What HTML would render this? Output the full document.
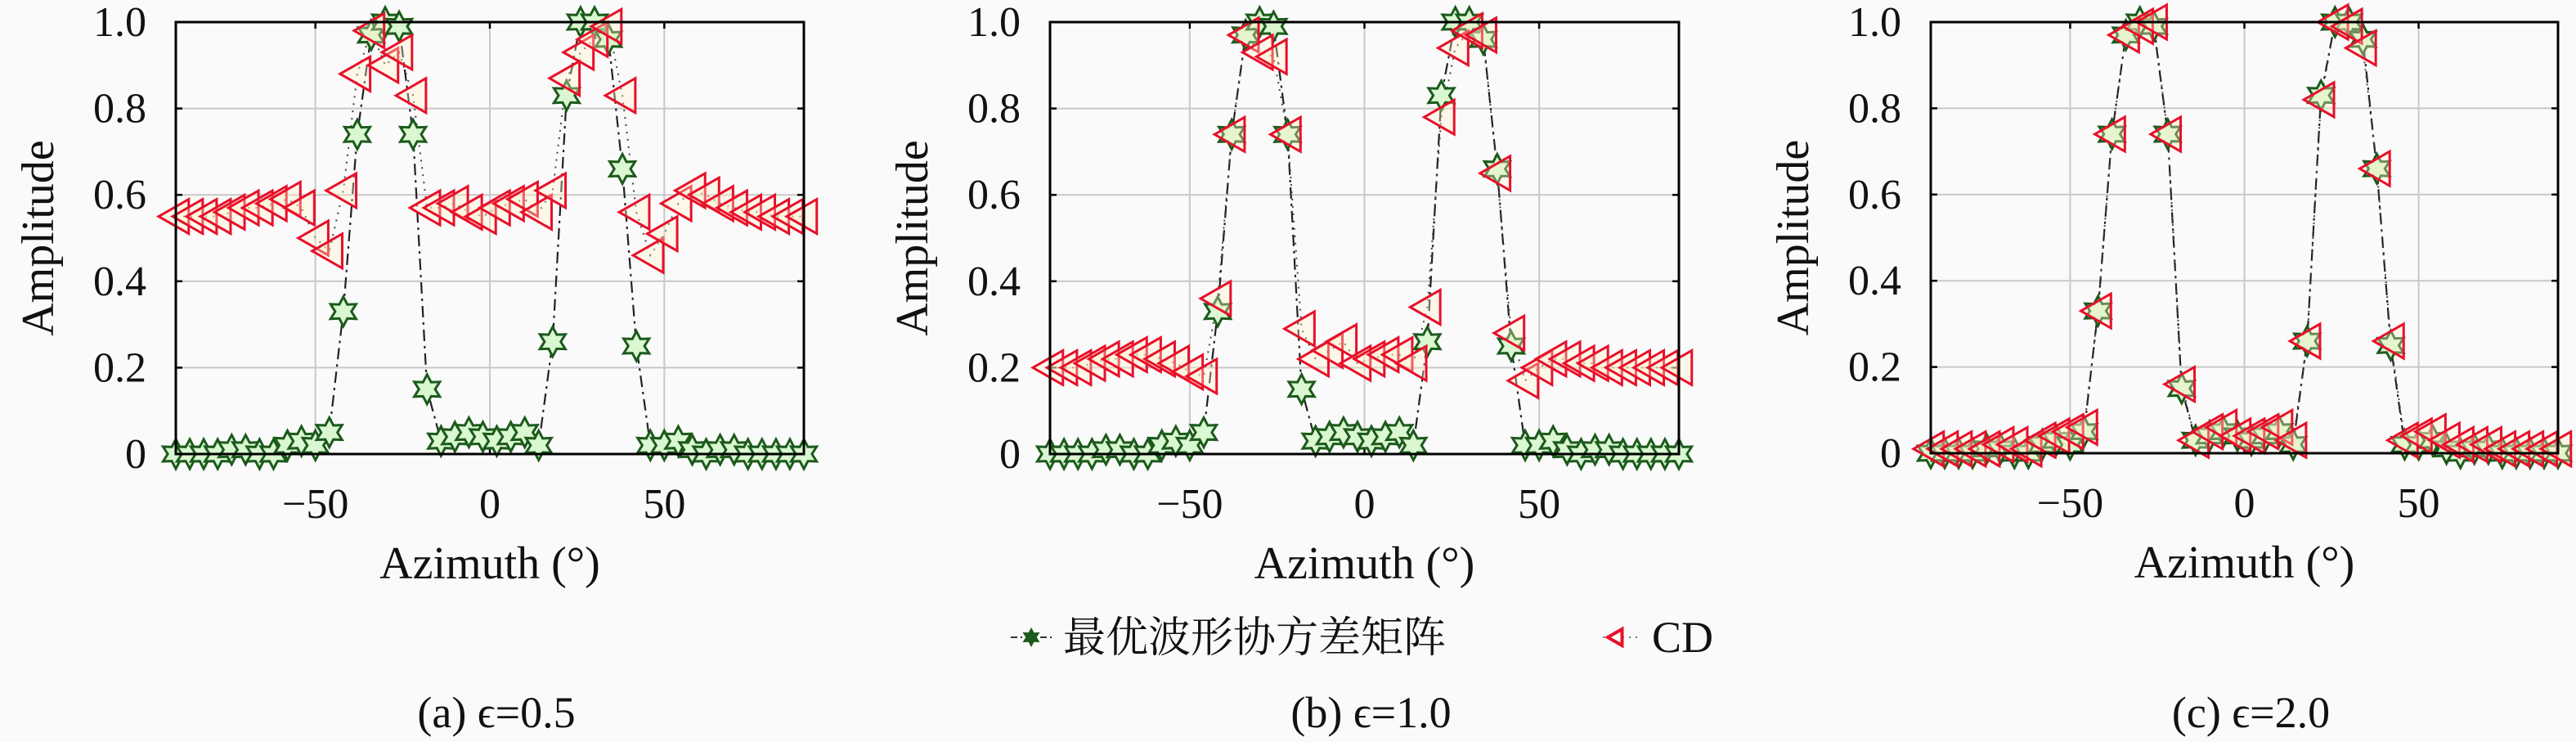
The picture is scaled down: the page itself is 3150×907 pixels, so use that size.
<!DOCTYPE html>
<html><head><meta charset="utf-8">
<style>
html,body{margin:0;padding:0;background:#fafafa;}
</style></head>
<body>
<svg id="chart" xmlns="http://www.w3.org/2000/svg" width="3150" height="902" viewBox="0 0 3150 902" font-family="'Liberation Serif', 'DejaVu Serif', serif">
<rect x="0" y="0" width="3150" height="902" fill="#fafafa"/>
</svg>
<script>
// ---- data ----
const angles = [-90,-86,-82,-78,-74,-70,-66,-62,-58,-54,-50,-46,-42,-38,-34,-30,-26,-22,-18,-14,-10,-6,-2,2,6,10,14,18,22,26,30,34,38,42,46,50,54,58,62,66,70,74,78,82,86,90];
const starA = [0,0,0,0,.01,.01,0,0,.02,.03,.02,.05,.33,.74,.97,1.0,.99,.74,.15,.03,.04,.05,.04,.03,.04,.05,.02,.26,.83,1.0,1.0,.96,.66,.25,.02,.02,.03,.01,0,.01,.01,0,0,0,0,0];
const starB = [0,0,0,0,.01,.01,0,0,.02,.03,.02,.05,.33,.74,.97,1.0,.99,.74,.15,.03,.04,.05,.04,.03,.04,.05,.02,.26,.83,1.0,1.0,.96,.66,.25,.02,.02,.03,.01,0,.01,.01,0,0,0,0,0];
const starC = [0,0,0,0,.01,.01,0,0,.02,.03,.02,.05,.33,.74,.97,1.0,.99,.74,.15,.03,.04,.05,.04,.03,.04,.05,.02,.26,.83,1.0,1.0,.96,.66,.25,.02,.02,.03,.01,0,.01,.01,0,0,0,0,0];
const cdA = [.55,.55,.55,.55,.56,.57,.57,.58,.59,.57,.50,.47,.61,.88,.98,.90,.93,.83,.57,.57,.58,.56,.55,.57,.58,.59,.56,.61,.87,.93,.96,.99,.83,.56,.46,.51,.58,.61,.60,.58,.57,.56,.56,.55,.55,.55];
const cdB = [.20,.20,.20,.21,.22,.22,.23,.23,.22,.21,.19,.18,.36,.74,.97,.93,.92,.74,.29,.22,.24,.26,.21,.22,.23,.23,.21,.34,.78,.94,.98,.97,.65,.28,.17,.20,.22,.22,.21,.21,.20,.20,.20,.20,.20,.20];
const cdC = [.01,.01,.01,.01,.01,.02,.02,.01,.03,.04,.05,.06,.33,.74,.97,.99,1.0,.74,.16,.03,.05,.06,.04,.04,.05,.06,.03,.26,.82,1.0,.99,.94,.66,.26,.03,.04,.05,.03,.02,.02,.02,.01,.01,.01,.01,.01];
const xTicks = [-50,0,50];
const xTickLabels = ["\u221250","0","50"];
const yTicks = [0,0.2,0.4,0.6,0.8,1.0];
const yTickLabels = ["0","0.2","0.4","0.6","0.8","1.0"];
const captions = ["(a) \u03f5=0.5","(b) \u03f5=1.0","(c) \u03f5=2.0"];
const legendLabels = ["最优波形协方差矩阵","CD"];

// ---- layout ----
const svg = document.getElementById('chart');
const NS = 'http://www.w3.org/2000/svg';
const SERIF = "'Liberation Serif', 'DejaVu Serif', serif";
function mk(tag, attrs, parent){const e=document.createElementNS(NS,tag);for(const k in attrs)e.setAttribute(k,attrs[k]);(parent||svg).appendChild(e);return e;}
const panels = [
 {left:215,right:983,top:27,bottom:555,star:starA,cd:cdA,id:'a'},
 {left:1284,right:2053,top:27,bottom:555,star:starB,cd:cdB,id:'b'},
 {left:2361,right:3128,top:27,bottom:554,star:starC,cd:cdC,id:'c'}
];
function starPts(cx,cy,r){let p=[];for(let i=0;i<12;i++){const a=-Math.PI/2+i*Math.PI/6;const rr=i%2?r*0.55:r;p.push((cx+rr*Math.cos(a)).toFixed(1)+','+(cy+rr*Math.sin(a)).toFixed(1));}return p.join(' ');}
function triPts(cx,cy,r){return [(cx-r)+','+cy,(cx+r*0.75)+','+(cy-r*1.0),(cx+r*0.75)+','+(cy+r*1.0)].join(' ');}

panels.forEach((P,pi)=>{
  const g = mk('g',{});
  
  
  const xs = v => P.left + (v+90)/180*(P.right-P.left);
  const ys = v => P.bottom - v*(P.bottom-P.top);
  xTicks.forEach(t=>{const l=mk('line',{x1:xs(t),x2:xs(t),y1:P.top,y2:P.bottom,stroke:'#c8c8c8','stroke-width':2},g);});
  yTicks.forEach(t=>{const l=mk('line',{x1:P.left,x2:P.right,y1:ys(t),y2:ys(t),stroke:'#c8c8c8','stroke-width':2},g);});
  xTicks.forEach(t=>{mk('line',{x1:xs(t),x2:xs(t),y1:P.top,y2:P.top+8,stroke:'#000','stroke-width':2.5},g);mk('line',{x1:xs(t),x2:xs(t),y1:P.bottom,y2:P.bottom-8,stroke:'#000','stroke-width':2.5},g);});
  yTicks.forEach(t=>{mk('line',{x1:P.left,x2:P.left+8,y1:ys(t),y2:ys(t),stroke:'#000','stroke-width':2.5},g);mk('line',{x1:P.right,x2:P.right-8,y1:ys(t),y2:ys(t),stroke:'#000','stroke-width':2.5},g);});
  xTicks.forEach((t,i)=>{const e=mk('text',{x:xs(t),y:P.bottom+78,'text-anchor':'middle','font-size':52,'font-family':SERIF,fill:'#111'},g);e.textContent=xTickLabels[i];});
  yTicks.forEach((t,i)=>{const e=mk('text',{x:P.left-36,y:ys(t)+17,'text-anchor':'end','font-size':52,'font-family':SERIF,fill:'#111'},g);e.textContent=yTickLabels[i];});
  const xt=mk('text',{x:(P.left+P.right)/2,y:P.bottom+152,'text-anchor':'middle','font-size':56,'font-family':SERIF,fill:'#111'},g);xt.textContent='Azimuth (°)';
  
  
  const yc=(P.top+P.bottom)/2, yx=P.left-150;
  const yt=mk('text',{x:yx,y:yc,'text-anchor':'middle','font-size':56,'font-family':SERIF,fill:'#111',transform:'rotate(-90 '+yx+' '+yc+')'},g);yt.textContent='Amplitude';
  
  
  const sp=angles.map((a,i)=>xs(a).toFixed(1)+','+ys(P.star[i]).toFixed(1)).join(' ');
  const sl=mk('polyline',{points:sp,fill:'none',stroke:'#222','stroke-width':2.2,'stroke-dasharray':'14,6,3,6'},g);
  
  
  const cp=angles.map((a,i)=>xs(a).toFixed(1)+','+ys(P.cd[i]).toFixed(1)).join(' ');
  const cl=mk('polyline',{points:cp,fill:'none',stroke:'#444','stroke-width':2,'stroke-dasharray':'2,7'},g);
  
  
  angles.forEach((a,i)=>{
    const s=mk('polygon',{points:starPts(xs(a),ys(P.star[i]),18),fill:'#d9f7d0',stroke:'#1c5a1c','stroke-width':3},g);
    
    
  });
  angles.forEach((a,i)=>{
    const t=mk('polygon',{points:triPts(xs(a),ys(P.cd[i]),21),fill:'rgba(255,240,200,0.35)',stroke:'#e8102a','stroke-width':3},g);
    
    
  });
  const f=mk('rect',{x:P.left,y:P.top,width:P.right-P.left,height:P.bottom-P.top,fill:'none',stroke:'#000','stroke-width':3},g);
  
  
  const c=mk('text',{x:(P.left+P.right)/2+8,y:889,'text-anchor':'middle','font-size':54,'font-family':SERIF,fill:'#111'},g);c.textContent=captions[pi];
  
  
});

const lg=mk('g',{});


const e1=mk('g',{},lg);


mk('line',{x1:1236,x2:1288,y1:779,y2:779,stroke:'#333','stroke-width':2,'stroke-dasharray':'8,4,2,4'},e1);
mk('polygon',{points:starPts(1261,779,10),fill:'#1c5a1c',stroke:'#1c5a1c','stroke-width':2},e1);
const lt1=mk('text',{x:1300,y:797,'font-size':52,'font-family':"'Noto Serif CJK SC','Noto Sans CJK SC',serif",fill:'#111'},e1);lt1.textContent=legendLabels[0];


const e2=mk('g',{},lg);


mk('line',{x1:1960,x2:2002,y1:779,y2:779,stroke:'#777','stroke-width':2,'stroke-dasharray':'2,6'},e2);
mk('polygon',{points:triPts(1976,779,10),fill:'#fff',stroke:'#e8102a','stroke-width':4},e2);
const lt2=mk('text',{x:2020,y:797,'font-size':54,'font-family':SERIF,fill:'#111'},e2);lt2.textContent=legendLabels[1];


</script>
</body></html>
